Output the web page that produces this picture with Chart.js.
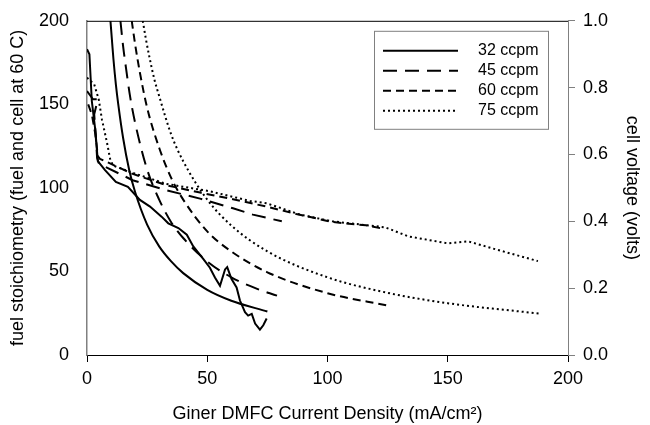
<!DOCTYPE html>
<html>
<head>
<meta charset="utf-8">
<script src="https://cdn.jsdelivr.net/npm/chart.js@4.4.1/dist/chart.umd.min.js"></script>
<style>
  html, body { margin: 0; padding: 0; background: #fff; }
  #wrap { width: 650px; height: 425px; }
</style>
</head>
<body>
<div id="wrap"><canvas id="chart"></canvas></div>
<script>
// Flow rates shown in the legend
const flowLabels = ['32 ccpm', '45 ccpm', '60 ccpm', '75 ccpm'];

// Fuel stoichiometry curves (left axis), [current density, stoichiometry]
const stoich32 = [[9.75,200],[10.5,186],[11,177],[12,162],[13,150],[15,130],[17.5,111],[20,97.5],[25,78],[30,65],
  [35,56],[40,49],[50,39],[60,32.5],[75,26]];
const stoich45 = [[13.9,200],[15,185],[16,174],[18,154],[20,139],[25,111],[30,93],[35,79.5],[40,70],[50,56],
  [60,46.5],[70,40],[79,35.5]];
const stoich60 = [[18.6,200],[20,186],[22,169],[25,148],[30,124],[35,106],[40,93],[50,74],[60,62],[75,49.5],
  [100,37],[125,29.6]];
const stoich75 = [[23.2,200],[24.5,189],[26,178],[28,165],[30,155],[35,132],[40,116],[50,93],[60,77.5],[75,62],
  [100,46.5],[125,37.2],[150,31],[188,24.8]];

// Cell voltage curves (right axis), [current density, volts]
const volt32 = [[0,0.915],[1,0.90],[2,0.76],[3.5,0.67],[4.5,0.58],[7.5,0.553],[12,0.518],[17,0.503],[22,0.464],
  [26.2,0.444],[31,0.414],[33.8,0.394],[38,0.38],[41.5,0.36],[44.2,0.325],[48.4,0.287],[51.1,0.261],[53.2,0.232],
  [55.3,0.207],[57.4,0.256],[58.3,0.263],[60.1,0.227],[62.2,0.202],[63.6,0.163],[65.7,0.128],[67,0.118],[68.5,0.123],
  [69.9,0.094],[71.9,0.076],[73.3,0.089],[74.7,0.109]];
const volt45 = [[0,0.79],[1.5,0.775],[2.5,0.765],[4.5,0.765],[3,0.72],[3.5,0.67],[4.2,0.59],[5,0.572],[19,0.523],
  [33,0.493],[47,0.468],[60.7,0.439],[69,0.42],[81,0.40]];
const volt60 = [[0.5,0.75],[2,0.72],[3.5,0.66],[4.5,0.595],[5.4,0.587],[19,0.542],[33,0.508],[47,0.486],[60.7,0.466],
  [74.7,0.444],[87,0.422],[102,0.398],[116,0.388],[123,0.378]];
const volt75 = [[0,0.83],[3,0.81],[4.9,0.764],[6.2,0.705],[8.3,0.636],[9.6,0.587],[10.8,0.567],[19,0.545],[33,0.512],
  [51,0.49],[67.8,0.461],[74.7,0.454],[88.6,0.42],[102,0.40],[124,0.382],[133.6,0.355],[150,0.334],[158.5,0.34],
  [171,0.314],[187.5,0.281]];

// Axis ticks
const xTicks = [0, 50, 100, 150, 200];
const stoichTicks = [0, 50, 100, 150, 200];
const voltTicks = [0.0, 0.2, 0.4, 0.6, 0.8, 1.0];

// Line style per flow rate
const dashes = [[], [14, 8], [8, 5], [2, 3]];

const FONT = 'Liberation Sans, Arial, sans-serif';

function toPoints(arr) {
    return arr.map(p => ({ x: p[0], y: p[1] }));
}

function makeSet(arr, idx, axis) {
    const set = {
        label: flowLabels[idx],
        data: toPoints(arr),
        yAxisID: axis,
        borderColor: '#000',
        borderWidth: 2,
        borderDash: dashes[idx],
        pointRadius: 0,
        fill: false,
        tension: 0
    };
    // the stoichiometry curves are smooth
    if (axis === 'y') set.cubicInterpolationMode = 'monotone';
    return set;
}

// Legend box inside the plot, plus the top frame line
const frameAndLegend = {
    id: 'frameAndLegend',
    afterDatasetsDraw(chart) {
        const ctx = chart.ctx;
        const a = chart.chartArea;
        ctx.save();
        ctx.strokeStyle = '#000';
        ctx.lineWidth = 1;
        ctx.beginPath();
        ctx.moveTo(a.left, a.top + 0.5);
        ctx.lineTo(a.right, a.top + 0.5);
        ctx.stroke();

        // legend
        const bx = a.right - 194, by = a.top + 10, bw = 174, bh = 98;
        ctx.fillStyle = '#fff';
        ctx.fillRect(bx, by, bw, bh);
        ctx.strokeStyle = '#808080';
        ctx.strokeRect(bx + 0.5, by + 0.5, bw, bh);
        ctx.font = '16px ' + FONT;
        ctx.textBaseline = 'middle';
        ctx.fillStyle = '#000';
        flowLabels.forEach((lab, i) => {
            const y = by + 20 + i * 20;
            ctx.beginPath();
            ctx.strokeStyle = '#000';
            ctx.setLineDash(dashes[i]);
            ctx.lineWidth = 2;
            ctx.moveTo(bx + 9, y);
            ctx.lineTo(bx + 84, y);
            ctx.stroke();
            ctx.setLineDash([]);
            ctx.fillText(lab, bx + 104, y);
        });
        ctx.restore();
    }
};

new Chart(document.getElementById('chart'), {
    type: 'line',
    data: {
        datasets: [
            makeSet(stoich32, 0, 'y'), makeSet(stoich45, 1, 'y'),
            makeSet(stoich60, 2, 'y'), makeSet(stoich75, 3, 'y'),
            makeSet(volt32, 0, 'y2'), makeSet(volt45, 1, 'y2'),
            makeSet(volt60, 2, 'y2'), makeSet(volt75, 3, 'y2')
        ]
    },
    options: {
        responsive: true,
        maintainAspectRatio: false,
        animation: false,
        layout: { padding: { top: 17, left: 0, right: 0, bottom: 0 } },
        plugins: {
            legend: { display: false },
            tooltip: { enabled: false }
        },
        scales: {
            x: {
                type: 'linear',
                min: 0,
                max: 200,
                afterBuildTicks: s => { s.ticks = xTicks.map(v => ({ value: v })); },
                afterFit: s => { s.height = 70; },
                grid: { display: true, drawOnChartArea: false, drawTicks: true, tickLength: 7, color: '#000' },
                border: { display: true, color: '#000', width: 1 },
                ticks: { color: '#000', padding: 6, font: { family: FONT, size: 18 }, maxRotation: 0 },
                title: {
                    display: true,
                    text: 'Giner DMFC Current Density (mA/cm\u00B2)',
                    color: '#000',
                    font: { family: FONT, size: 18 },
                    padding: { top: 6, bottom: 0 }
                }
            },
            y: {
                position: 'left',
                min: 0,
                max: 200,
                afterBuildTicks: s => { s.ticks = stoichTicks.map(v => ({ value: v })); },
                afterFit: s => { s.width = 87; },
                grid: { display: false },
                border: { display: true, color: '#808080', width: 1.5 },
                ticks: { color: '#000', padding: 10, font: { family: FONT, size: 18 } },
                title: {
                    display: true,
                    text: 'fuel stoichiometry (fuel and cell at 60 C)',
                    color: '#000',
                    font: { family: FONT, size: 18 },
                    padding: { top: 7, bottom: 0 }
                }
            },
            y2: {
                position: 'right',
                min: 0,
                max: 1,
                afterBuildTicks: s => { s.ticks = voltTicks.map(v => ({ value: v })); },
                afterFit: s => { s.width = 82; },
                grid: { display: true, drawOnChartArea: false, drawTicks: true, tickLength: 7, color: '#808080' },
                border: { display: true, color: '#808080', width: 1 },
                ticks: {
                    color: '#000',
                    padding: 8,
                    font: { family: FONT, size: 18 },
                    callback: v => v.toFixed(1)
                },
                title: {
                    display: true,
                    text: 'cell voltage (volts)',
                    color: '#000',
                    font: { family: FONT, size: 18 },
                    padding: { top: 7, bottom: 0 }
                }
            }
        }
    },
    plugins: [frameAndLegend]
});
</script>
</body>
</html>
